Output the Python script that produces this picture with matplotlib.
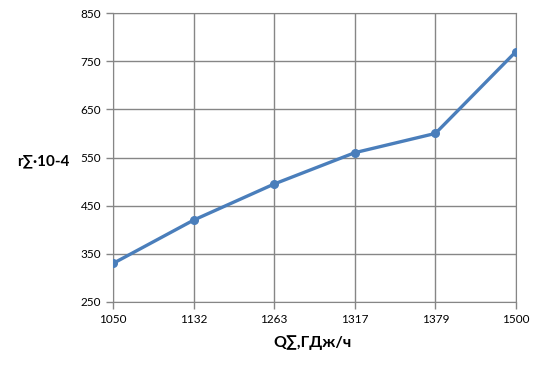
import matplotlib
matplotlib.use("Agg")
import matplotlib.pyplot as plt

categories = ["1050", "1132", "1263", "1317", "1379", "1500"]
values = [330, 420, 495, 560, 600, 770]
yticks = [250, 350, 450, 550, 650, 750, 850]

plt.rcParams['font.family'] = ['Lato', 'DejaVu Sans']

fig = plt.figure(figsize=(5.41, 3.73), dpi=100)
ax = fig.add_axes([113/541, 1-302/373, (516-113)/541, (302-13)/373])

x = list(range(len(categories)))
ax.plot(x, values, color='#4a7ebb', lw=2.4, marker='o', ms=5.5, zorder=3)

ax.set_xlim(0, len(categories)-1)
ax.set_ylim(250, 850)
ax.set_xticks(x)
ax.set_xticklabels(categories, fontsize=8.5)
ax.set_yticks(yticks)
ax.set_yticklabels([str(t) for t in yticks], fontsize=8.5)
ax.grid(True, color='#868686', lw=1)
for s in ax.spines.values():
    s.set_color('#868686')
ax.tick_params(colors='#868686', labelcolor='black', length=5, width=1)
ax.set_axisbelow(True)

fig.text(43/541, 1-161/373, "r∑·10-4", fontsize=11, fontweight='bold', ha='center', va='center')
fig.text(313/541, 1-343/373, "Q∑,ГДж/ч", fontsize=11.5, fontweight='bold', ha='center', va='center')

fig.savefig("out.png", dpi=100)
